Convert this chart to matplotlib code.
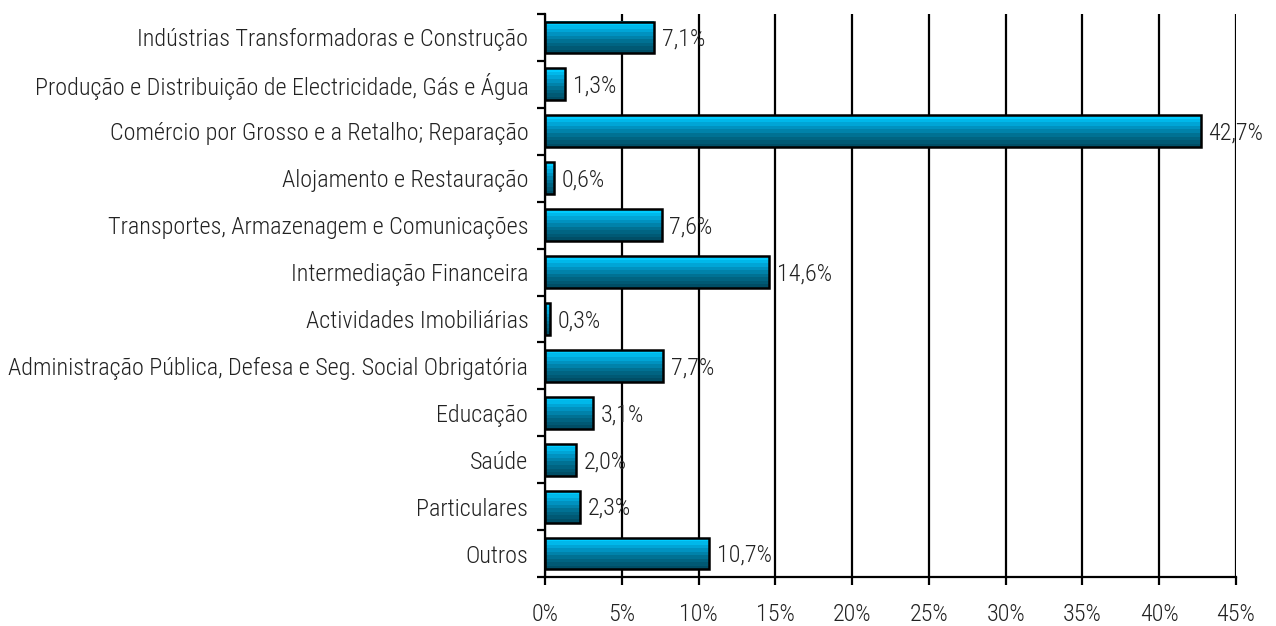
import matplotlib
matplotlib.use("Agg")
import matplotlib.pyplot as plt
import numpy as np
from matplotlib.colors import LinearSegmentedColormap
from matplotlib.ticker import FuncFormatter
from matplotlib.textpath import TextPath
from matplotlib.font_manager import FontProperties

categories = [
    "Indústrias Transformadoras e Construção",
    "Produção e Distribuição de Electricidade, Gás e Água",
    "Comércio por Grosso e a Retalho; Reparação",
    "Alojamento e Restauração",
    "Transportes, Armazenagem e Comunicações",
    "Intermediação Financeira",
    "Actividades Imobiliárias",
    "Administração Pública, Defesa e Seg. Social Obrigatória",
    "Educação",
    "Saúde",
    "Particulares",
    "Outros",
]
values = [7.1, 1.3, 42.7, 0.6, 7.6, 14.6, 0.3, 7.7, 3.1, 2.0, 2.3, 10.7]
x_ticks = [0, 5, 10, 15, 20, 25, 30, 35, 40, 45]

FAMILY = "Roboto Condensed"
plt.rcParams["font.family"] = [FAMILY, "DejaVu Sans"]
plt.rcParams["font.weight"] = "light"

# font size chosen so the longest label spans about 517 px (as in the reference)
fp = FontProperties(family=FAMILY, size=100, weight="light")
longest = max(categories, key=len)
w100 = TextPath((0, 0), longest, prop=fp).get_extents().width
FS = 100 * (517 * 72 / 100) / w100

fig = plt.figure(figsize=(12.76, 6.26), dpi=100)
ax = fig.add_axes([545/1276, 1-577/626, (1236-545)/1276, (577-14)/626])

n = len(categories)
y = np.arange(n)
height = 0.68
cmap = LinearSegmentedColormap.from_list("g", ["#00CCFF", "#0098C8", "#006C8C", "#004E66"])
NB = 9
band_h = height / NB

# gradient bands (top light cyan -> bottom dark teal); y axis is inverted
for k in range(NB):
    offs = y - height / 2 + k * band_h + band_h / 2
    ax.barh(offs, values, height=band_h * 1.02, color=cmap(k / (NB - 1)),
            linewidth=0, zorder=2)
bars = ax.barh(y, values, height=height, color="none", edgecolor="black",
               linewidth=1.8, zorder=3)
for b, v in zip(bars, values):
    ax.text(v + 0.5, b.get_y() + b.get_height() / 2 + 0.04, f"{v:.1f}%".replace(".", ","),
            va="center", ha="left", fontsize=FS, color="#222222", zorder=4)

ax.set_xlim(0, 45)
ax.set_ylim(n - 0.5, -0.5)
ax.set_xticks(x_ticks)
ax.xaxis.set_major_formatter(FuncFormatter(lambda v, p: f"{int(v)}%"))
ax.set_yticks(y)
ax.set_yticklabels(categories, fontsize=FS, color="#222222")
ax.set_yticks(np.arange(-0.5, n, 1), minor=True)
ax.tick_params(axis="y", which="major", length=0, pad=12)
ax.tick_params(axis="y", which="minor", length=6, width=1.6, direction="out")
ax.tick_params(axis="x", which="major", length=6, width=1.6, direction="out", labelsize=FS,
               pad=13, labelcolor="#222222")
ax.grid(axis="x", color="black", linewidth=1.6, zorder=1)
ax.set_axisbelow(True)
for s in ["top", "right"]:
    ax.spines[s].set_visible(False)
for s in ["left", "bottom"]:
    ax.spines[s].set_linewidth(1.6)

fig.savefig("out.png", dpi=100, facecolor="white")
